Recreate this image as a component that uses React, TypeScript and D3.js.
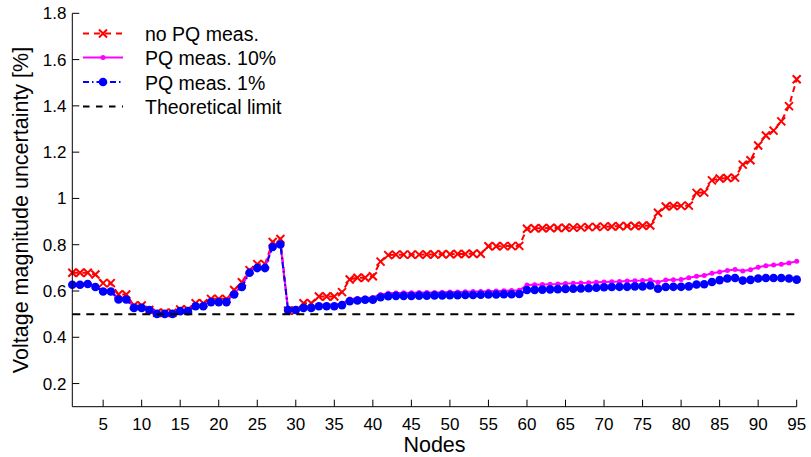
import React from 'react';
import * as d3 from 'd3';

const nodes: number[] = d3.range(1, 96);

const noPQ: number[] = [
  0.679, 0.679, 0.679, 0.671, 0.634, 0.634, 0.585, 0.585, 0.537, 0.537,
  0.518, 0.506, 0.506, 0.506, 0.520, 0.520, 0.547, 0.547, 0.566, 0.566,
  0.566, 0.604, 0.638, 0.690, 0.716, 0.716, 0.812, 0.825, 0.515, 0.515,
  0.547, 0.547, 0.576, 0.576, 0.576, 0.595, 0.650, 0.657, 0.657, 0.664,
  0.727, 0.755, 0.757, 0.757, 0.757, 0.757, 0.758, 0.758, 0.759, 0.759,
  0.760, 0.760, 0.761, 0.761, 0.793, 0.793, 0.794, 0.794, 0.795, 0.869,
  0.871, 0.871, 0.872, 0.872, 0.873, 0.874, 0.875, 0.876, 0.877, 0.878,
  0.879, 0.880, 0.881, 0.881, 0.882, 0.883, 0.938, 0.965, 0.967, 0.968,
  0.969, 1.024, 1.026, 1.078, 1.086, 1.088, 1.090, 1.146, 1.165, 1.229,
  1.272, 1.293, 1.333, 1.399, 1.515,
];

const pq10: number[] = [
  0.631, 0.631, 0.634, 0.621, 0.602, 0.602, 0.567, 0.567, 0.531, 0.531,
  0.522, 0.505, 0.505, 0.505, 0.517, 0.517, 0.538, 0.538, 0.556, 0.556,
  0.556, 0.590, 0.622, 0.684, 0.705, 0.706, 0.797, 0.808, 0.518, 0.518,
  0.530, 0.530, 0.538, 0.538, 0.538, 0.545, 0.565, 0.568, 0.570, 0.572,
  0.585, 0.590, 0.591, 0.592, 0.592, 0.593, 0.594, 0.594, 0.595, 0.596,
  0.596, 0.597, 0.598, 0.598, 0.599, 0.600, 0.601, 0.602, 0.603, 0.626,
  0.627, 0.628, 0.629, 0.630, 0.632, 0.633, 0.635, 0.636, 0.638, 0.639,
  0.640, 0.641, 0.643, 0.644, 0.645, 0.647, 0.638, 0.648, 0.649, 0.650,
  0.657, 0.664, 0.667, 0.677, 0.682, 0.689, 0.693, 0.686, 0.692, 0.703,
  0.709, 0.712, 0.716, 0.721, 0.728,
];

const pq1: number[] = [
  0.627, 0.627, 0.630, 0.617, 0.598, 0.598, 0.563, 0.563, 0.527, 0.527,
  0.518, 0.501, 0.501, 0.501, 0.513, 0.513, 0.534, 0.534, 0.552, 0.552,
  0.552, 0.585, 0.617, 0.679, 0.699, 0.699, 0.790, 0.801, 0.518, 0.518,
  0.527, 0.527, 0.534, 0.534, 0.534, 0.539, 0.556, 0.559, 0.562, 0.562,
  0.573, 0.578, 0.579, 0.579, 0.579, 0.580, 0.580, 0.581, 0.581, 0.582,
  0.582, 0.583, 0.583, 0.584, 0.585, 0.585, 0.586, 0.586, 0.587, 0.604,
  0.605, 0.606, 0.607, 0.608, 0.609, 0.610, 0.611, 0.612, 0.614, 0.616,
  0.617, 0.618, 0.618, 0.620, 0.620, 0.624, 0.610, 0.617, 0.618, 0.618,
  0.620, 0.628, 0.629, 0.639, 0.647, 0.654, 0.656, 0.645, 0.648, 0.654,
  0.656, 0.656, 0.656, 0.654, 0.649,
];

const theoreticalLimit = 0.5;

const xTicks: number[] = [5, 10, 15, 20, 25, 30, 35, 40, 45, 50, 55, 60, 65, 70, 75, 80, 85, 90, 95];
const yTicks: number[] = [0.2, 0.4, 0.6, 0.8, 1.0, 1.2, 1.4, 1.6, 1.8];
const yTickLabels: string[] = ['0.2', '0.4', '0.6', '0.8', '1', '1.2', '1.4', '1.6', '1.8'];

const legendLabels: string[] = ['no PQ meas.', 'PQ meas. 10%', 'PQ meas. 1%', 'Theoretical limit'];

const FONT = '"Liberation Sans", Arial, Helvetica, sans-serif';

export default function App() {
  const W = 811;
  const H = 457;
  const left = 72.3, right = 796.7, top = 13.3, bottom = 406.7;

  const x = d3.scaleLinear().domain([1, 95]).range([left, right]);
  const y = d3.scaleLinear().domain([0.1, 1.8]).range([bottom, top]);

  const line = d3
    .line<number>()
    .x((_, i) => x(nodes[i]))
    .y((d) => y(d));

  const red = '#ff0000';
  const mag = '#ff00ff';
  const blue = '#0000ff';

  const xMark = (cx: number, cy: number, s: number, key: string | number) => (
    <path
      key={key}
      d={`M${cx - s},${cy - s}L${cx + s},${cy + s}M${cx - s},${cy + s}L${cx + s},${cy - s}`}
      stroke={red}
      strokeWidth={2}
      fill="none"
    />
  );

  const legendRows = [33.5, 57.5, 82, 106.5];
  const lx0 = 83, lx1 = 123, lxm = 103;

  return (
    <svg
      width={W}
      height={H}
      style={{ position: 'absolute', left: 0, top: 0, background: '#fff' }}
      fontFamily={FONT}
    >
      <rect x={0} y={0} width={W} height={H} fill="#fff" />

      {/* series: no PQ */}
      <path d={line(noPQ) || ''} fill="none" stroke={red} strokeWidth={2} strokeDasharray="6,4" />
      {noPQ.map((v, i) => xMark(x(nodes[i]), y(v), 4, 'r' + i))}

      {/* series: PQ 10% */}
      <path d={line(pq10) || ''} fill="none" stroke={mag} strokeWidth={2} />
      {pq10.map((v, i) => (
        <circle key={'m' + i} cx={x(nodes[i])} cy={y(v)} r={2.5} fill={mag} />
      ))}

      {/* series: PQ 1% */}
      <path d={line(pq1) || ''} fill="none" stroke={blue} strokeWidth={2} strokeDasharray="6,3,1.5,3" />
      {pq1.map((v, i) => (
        <circle key={'b' + i} cx={x(nodes[i])} cy={y(v)} r={4.3} fill={blue} />
      ))}

      {/* theoretical limit */}
      <line
        x1={x(1)}
        x2={x(95)}
        y1={y(theoreticalLimit)}
        y2={y(theoreticalLimit)}
        stroke="#000"
        strokeWidth={2}
        strokeDasharray="8,6"
      />

      {/* axes */}
      <line x1={left} x2={left} y1={top} y2={bottom} stroke="#000" strokeWidth={1} />
      <line x1={left} x2={right} y1={bottom} y2={bottom} stroke="#000" strokeWidth={1} />

      {xTicks.map((t) => (
        <g key={'xt' + t}>
          <line x1={x(t)} x2={x(t)} y1={bottom} y2={bottom - 7} stroke="#000" strokeWidth={1} />
          <text x={x(t)} y={430} textAnchor="middle" fontSize={17} fill="#000">
            {t}
          </text>
        </g>
      ))}

      {yTicks.map((t, i) => (
        <g key={'yt' + t}>
          <line x1={left} x2={left + 7} y1={y(t)} y2={y(t)} stroke="#000" strokeWidth={1} />
          <text x={66.5} y={y(t)} dy="0.35em" textAnchor="end" fontSize={17} fill="#000">
            {yTickLabels[i]}
          </text>
        </g>
      ))}

      <text x={(left + right) / 2} y={451.5} textAnchor="middle" fontSize={21.5} fill="#000">
        Nodes
      </text>
      <text
        transform={`translate(27.5,${(top + bottom) / 2}) rotate(-90)`}
        textAnchor="middle"
        fontSize={21.5}
        fill="#000"
      >
        Voltage magnitude uncertainty [%]
      </text>

      {/* legend */}
      <g>
        <line x1={lx0} x2={lx1} y1={legendRows[0]} y2={legendRows[0]} stroke={red} strokeWidth={2} strokeDasharray="6,5" />
        {xMark(lxm, legendRows[0], 4, 'lr')}
        <line x1={lx0} x2={lx1} y1={legendRows[1]} y2={legendRows[1]} stroke={mag} strokeWidth={2} />
        <circle cx={lxm} cy={legendRows[1]} r={2.5} fill={mag} />
        <line x1={lx0} x2={lx1} y1={legendRows[2]} y2={legendRows[2]} stroke={blue} strokeWidth={2} strokeDasharray="6,3,1.5,3" />
        <circle cx={lxm} cy={legendRows[2]} r={4.3} fill={blue} />
        <line x1={lx0} x2={lx1} y1={legendRows[3]} y2={legendRows[3]} stroke="#000" strokeWidth={2} strokeDasharray="6.5,6.5" />
        {legendLabels.map((l, i) => (
          <text key={'lg' + i} x={145} y={legendRows[i] + 7.5} fontSize={19.5} fill="#000">
            {l}
          </text>
        ))}
      </g>
    </svg>
  );
}
